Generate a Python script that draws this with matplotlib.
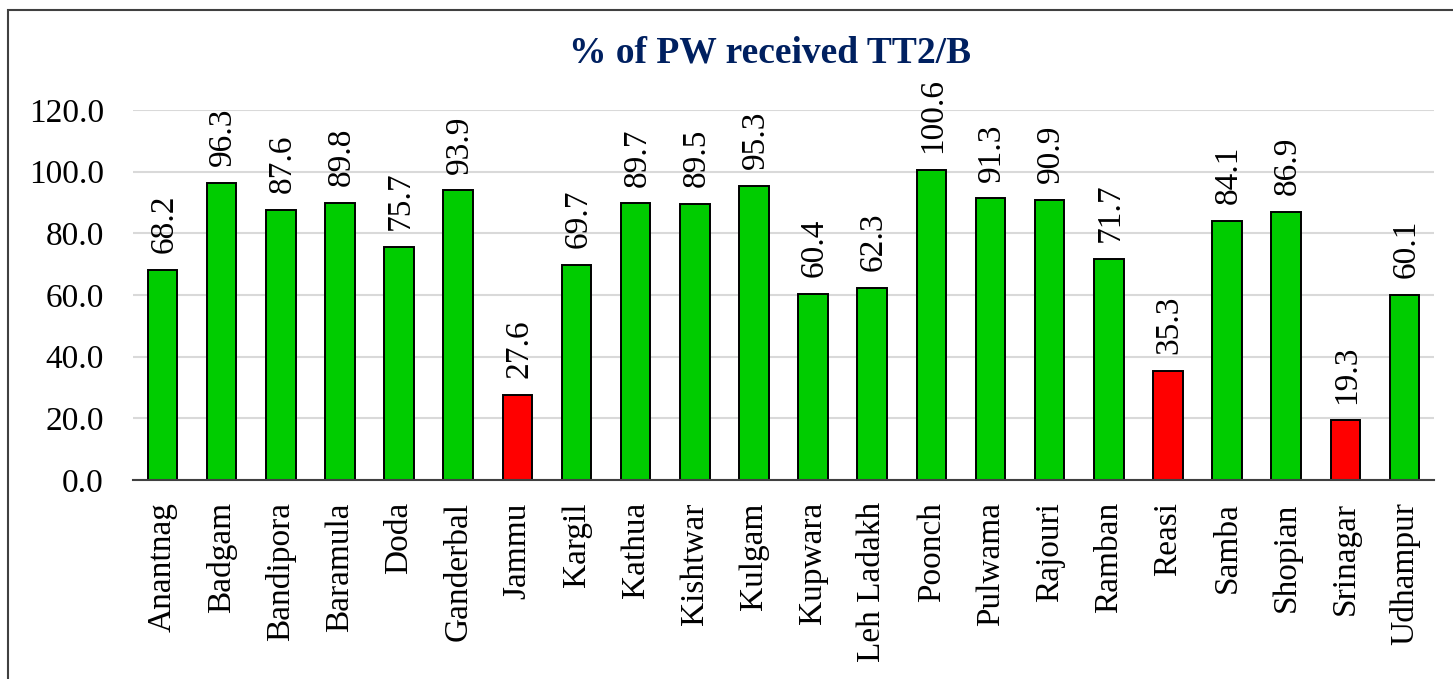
import matplotlib.pyplot as plt
from matplotlib.patches import Rectangle

districts = ["Anantnag", "Badgam", "Bandipora", "Baramula", "Doda", "Ganderbal",
             "Jammu", "Kargil", "Kathua", "Kishtwar", "Kulgam", "Kupwara",
             "Leh Ladakh", "Poonch", "Pulwama", "Rajouri", "Ramban", "Reasi",
             "Samba", "Shopian", "Srinagar", "Udhampur"]
pct_tt2 = [68.2, 96.3, 87.6, 89.8, 75.7, 93.9, 27.6, 69.7, 89.7, 89.5, 95.3,
           60.4, 62.3, 100.6, 91.3, 90.9, 71.7, 35.3, 84.1, 86.9, 19.3, 60.1]
low_cutoff = 40

plt.rcParams['font.family'] = ['Liberation Serif', 'DejaVu Serif']

fig = plt.figure(figsize=(14.53, 6.79), dpi=100)
ax = fig.add_axes([0.0915, 0.2931, 0.8955, 0.5449])

colors = ['#FF0000' if v < low_cutoff else '#00CC00' for v in pct_tt2]
x = range(len(districts))
bars = ax.bar(x, pct_tt2, width=0.5, color=colors, edgecolor='black',
              linewidth=1.4, zorder=3)

for b, v in zip(bars, pct_tt2):
    ax.annotate(f"{v:.1f}", (b.get_x() + b.get_width() / 2, v),
                xytext=(1, 12), textcoords='offset points', rotation=90,
                ha='center', va='bottom', fontsize=24, annotation_clip=False)

ax.set_xlim(-0.5, len(districts) - 0.5)
ax.set_ylim(0, 120)
ax.set_yticks(range(0, 121, 20))
ax.set_yticklabels([f"{t:.1f}" for t in range(0, 121, 20)])
ax.set_xticks(list(x))
ax.set_xticklabels(districts, rotation=90, va='top', ha='center')
ax.tick_params(axis='y', length=0, pad=21, labelsize=24)
ax.tick_params(axis='x', length=0, pad=16, labelsize=24)
ax.grid(axis='y', color='#D9D9D9', linewidth=1.5, zorder=0)
for s in ['left', 'right', 'top']:
    ax.spines[s].set_visible(False)
ax.spines['bottom'].set_color('#404040')
ax.spines['bottom'].set_linewidth(1.5)
ax.spines['bottom'].set_zorder(4)

fig.text(770 / 1453, 1 - 53 / 679, "% of PW received TT2/B", ha='center',
         va='center', fontsize=27, fontweight='bold', color='#002060')

# outer chart border
fig.patches.append(Rectangle((8 / 1453, -0.1), 1.2, 1 - 10 / 679 + 0.1,
                             transform=fig.transFigure, fill=False,
                             edgecolor='#404040', linewidth=1.5))

fig.savefig("out.png", dpi=100)
